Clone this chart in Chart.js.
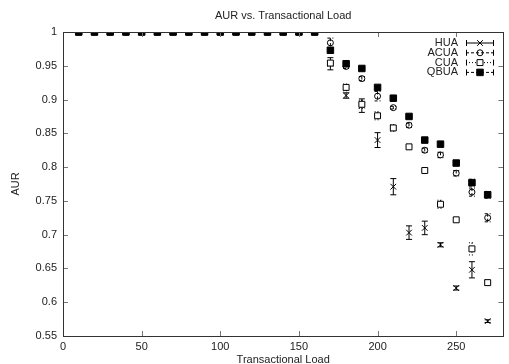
<!DOCTYPE html>
<html>
<head>
<meta charset="utf-8">
<script src="https://cdn.jsdelivr.net/npm/chart.js@4.4.1/dist/chart.umd.min.js"></script>
<style>
  html, body { margin: 0; padding: 0; background: #fff; }
  #wrap { width: 509px; height: 364px; }
</style>
</head>
<body>
<div id="wrap"><canvas id="chartAur" width="509" height="364"></canvas></div>
<script>
const CARGAS = [10, 20, 30, 40, 50, 60, 70, 80, 90, 100, 110, 120, 130, 140, 150, 160, 170, 180, 190, 200, 210, 220, 230, 240, 250, 260, 270];

const HUA      = [1, 1, 1, 1, 1, 1, 1, 1, 1, 1, 1, 1, 1, 1, 1, 1, 0.953, 0.906, 0.891, 0.840, 0.771, 0.703, 0.710, 0.685, 0.621, 0.648, 0.572];
const HUA_ERR  = [0, 0, 0, 0, 0, 0, 0, 0, 0, 0, 0, 0, 0, 0, 0, 0, 0.009, 0.004, 0.010, 0.011, 0.012, 0.010, 0.010, 0.003, 0.003, 0.012, 0.002];
const ACUA     = [1, 1, 1, 1, 1, 1, 1, 1, 1, 1, 1, 1, 1, 1, 1, 1, 0.984, 0.949, 0.931, 0.905, 0.888, 0.862, 0.825, 0.818, 0.791, 0.763, 0.725];
const ACUA_ERR = [0, 0, 0, 0, 0, 0, 0, 0, 0, 0, 0, 0, 0, 0, 0, 0, 0.007, 0.003, 0.003, 0.007, 0.002, 0.003, 0.003, 0.004, 0.004, 0.006, 0.006];
const CUA      = [1, 1, 1, 1, 1, 1, 1, 1, 1, 1, 1, 1, 1, 1, 1, 1, 0.954, 0.918, 0.893, 0.876, 0.858, 0.830, 0.795, 0.745, 0.722, 0.679, 0.629];
const CUA_ERR  = [0, 0, 0, 0, 0, 0, 0, 0, 0, 0, 0, 0, 0, 0, 0, 0, 0.004, 0.005, 0.006, 0.006, 0.005, 0.003, 0.002, 0.006, 0.003, 0.009, 0.004];
const QBUA     = [1, 1, 1, 1, 1, 1, 1, 1, 1, 1, 1, 1, 1, 1, 1, 1, 0.973, 0.953, 0.946, 0.918, 0.902, 0.875, 0.840, 0.834, 0.806, 0.777, 0.759];
const QBUA_ERR = [0, 0, 0, 0, 0, 0, 0, 0, 0, 0, 0, 0, 0, 0, 0, 0, 0.002, 0.003, 0.002, 0.002, 0.003, 0.002, 0.002, 0.002, 0.002, 0.005, 0.005];

const X_TICKS = [0, 50, 100, 150, 200, 250];
const Y_TICKS = [0.55, 0.6, 0.65, 0.7, 0.75, 0.8, 0.85, 0.9, 0.95, 1];

const CORES = {
  text:   "#222",
  border: "#333",
  tick:   "#777",
  mark:   "#000",
};

Chart.defaults.font.family = "'Liberation Sans', Arial, sans-serif";
Chart.defaults.font.size   = 11;
Chart.defaults.color       = CORES.text;

const series = [
  { label: "HUA",  y: HUA,  err: HUA_ERR,  style: "crossRot", radius: 4,   fill: "rgba(0,0,0,0)", dash: [],     order: 3 },
  { label: "ACUA", y: ACUA, err: ACUA_ERR, style: "circle",   radius: 3,   fill: "rgba(0,0,0,0)", dash: [3, 2], order: 2 },
  { label: "CUA",  y: CUA,  err: CUA_ERR,  style: "rect",     radius: 4.2, fill: "#fff",          dash: [1, 2], order: 1 },
  { label: "QBUA", y: QBUA, err: QBUA_ERR, style: "rect",     radius: 4.6, fill: CORES.mark,      dash: [3, 2], order: 0 },
];

// barras de erro desenhadas pelas escalas do próprio gráfico
const errorBars = {
  id: "errorBars",
  beforeDatasetsDraw(chart) {
    const { ctx, scales: { y } } = chart;
    chart.data.datasets.forEach((ds, i) => {
      const meta = chart.getDatasetMeta(i);
      ctx.save();
      ctx.strokeStyle = CORES.mark;
      ctx.lineWidth = 1;
      ctx.setLineDash(ds.dash);
      meta.data.forEach((pt, j) => {
        const e = ds.err[j];
        if (!e) return;
        const top = y.getPixelForValue(ds.data[j].y + e);
        const bot = y.getPixelForValue(ds.data[j].y - e);
        ctx.beginPath();
        ctx.moveTo(pt.x, top); ctx.lineTo(pt.x, bot);
        ctx.moveTo(pt.x - 3, top); ctx.lineTo(pt.x + 3, top);
        ctx.moveTo(pt.x - 3, bot); ctx.lineTo(pt.x + 3, bot);
        ctx.stroke();
      });
      ctx.restore();
    });
  }
};

// moldura e marcas internas no estilo gnuplot
const frame = {
  id: "frame",
  afterDraw(chart) {
    const { ctx, chartArea: a, scales: { x, y } } = chart;
    ctx.save();
    ctx.strokeStyle = CORES.tick;
    ctx.lineWidth = 1;
    ctx.beginPath();
    X_TICKS.forEach(v => {
      const px = Math.round(x.getPixelForValue(v)) + 0.5;
      ctx.moveTo(px, a.bottom); ctx.lineTo(px, a.bottom - 5);
      ctx.moveTo(px, a.top);    ctx.lineTo(px, a.top + 5);
    });
    Y_TICKS.forEach(v => {
      const py = Math.round(y.getPixelForValue(v)) + 0.5;
      ctx.moveTo(a.left, py);  ctx.lineTo(a.left + 5, py);
      ctx.moveTo(a.right, py); ctx.lineTo(a.right - 5, py);
    });
    ctx.stroke();
    ctx.strokeStyle = CORES.border;
    ctx.strokeRect(Math.round(a.left) + 0.5, Math.round(a.top) + 0.5, Math.round(a.right - a.left), Math.round(a.bottom - a.top));
    ctx.restore();
  }
};

// legenda no canto superior direito
const legenda = {
  id: "legenda",
  afterDraw(chart) {
    const { ctx } = chart;
    const textX = 458, x0 = 466, x1 = 494, xm = 480;
    ctx.save();
    ctx.font = "11px 'Liberation Sans', Arial, sans-serif";
    ctx.textAlign = "right";
    ctx.textBaseline = "middle";
    ctx.lineWidth = 1;
    series.forEach((s, i) => {
      const yy = 43 + i * 9.8;
      ctx.fillStyle = CORES.text;
      ctx.fillText(s.label, textX, yy);
      ctx.strokeStyle = CORES.mark;
      ctx.setLineDash(s.dash);
      ctx.beginPath();
      ctx.moveTo(x0, yy); ctx.lineTo(x1, yy);
      ctx.stroke();
      ctx.setLineDash([]);
      ctx.beginPath();
      ctx.moveTo(x0 + 0.5, yy - 3); ctx.lineTo(x0 + 0.5, yy + 3);
      ctx.moveTo(x1 - 0.5, yy - 3); ctx.lineTo(x1 - 0.5, yy + 3);
      ctx.stroke();
      ctx.fillStyle = s.fill;
      ctx.strokeStyle = CORES.mark;
      Chart.helpers.drawPoint(ctx, {
        pointStyle: s.style, radius: s.radius, rotation: 0, borderWidth: 1
      }, xm, yy);
    });
    ctx.restore();
  }
};

function renderGrafico() {
  new Chart(document.getElementById("chartAur"), {
    type: "scatter",
    data: {
      datasets: series.map(s => ({
        label: s.label,
        data: CARGAS.map((c, i) => ({ x: c, y: s.y[i] })),
        err: s.err,
        dash: s.dash,
        order: s.order,
        pointStyle: s.style,
        pointRadius: s.radius,
        pointHoverRadius: s.radius,
        pointBackgroundColor: s.fill,
        pointBorderColor: CORES.mark,
        pointBorderWidth: 1,
        showLine: false,
      }))
    },
    options: {
      responsive: false,
      animation: false,
      layout: { padding: { top: 0, right: 3, left: 0, bottom: 0 } },
      plugins: {
        legend: { display: false },
        tooltip: { enabled: false },
        title: {
          display: true,
          fullSize: false,
          text: "AUR vs. Transactional Load",
          color: CORES.text,
          font: { size: 11, weight: "normal" },
          padding: { top: 9, bottom: 9.8 }
        }
      },
      scales: {
        x: {
          type: "linear",
          min: 0, max: 280,
          grid: { display: false, drawTicks: false },
          border: { display: false },
          ticks: { stepSize: 50, includeBounds: false, padding: 4, color: CORES.text, maxRotation: 0 },
          title: { display: true, text: "Transactional Load", color: CORES.text, padding: { top: 0, bottom: -3 } },
          afterFit: s => { s.height = 28; }
        },
        y: {
          min: 0.55, max: 1,
          grid: { display: false, drawTicks: false },
          border: { display: false },
          ticks: { stepSize: 0.05, padding: 6, color: CORES.text, callback: v => +v.toFixed(2) },
          title: { display: true, text: "AUR", color: CORES.text, padding: { top: 9, bottom: 0 } },
          afterFit: s => { s.width = 63; }
        }
      }
    },
    plugins: [errorBars, frame, legenda]
  });
}

renderGrafico();
</script>
</body>
</html>
